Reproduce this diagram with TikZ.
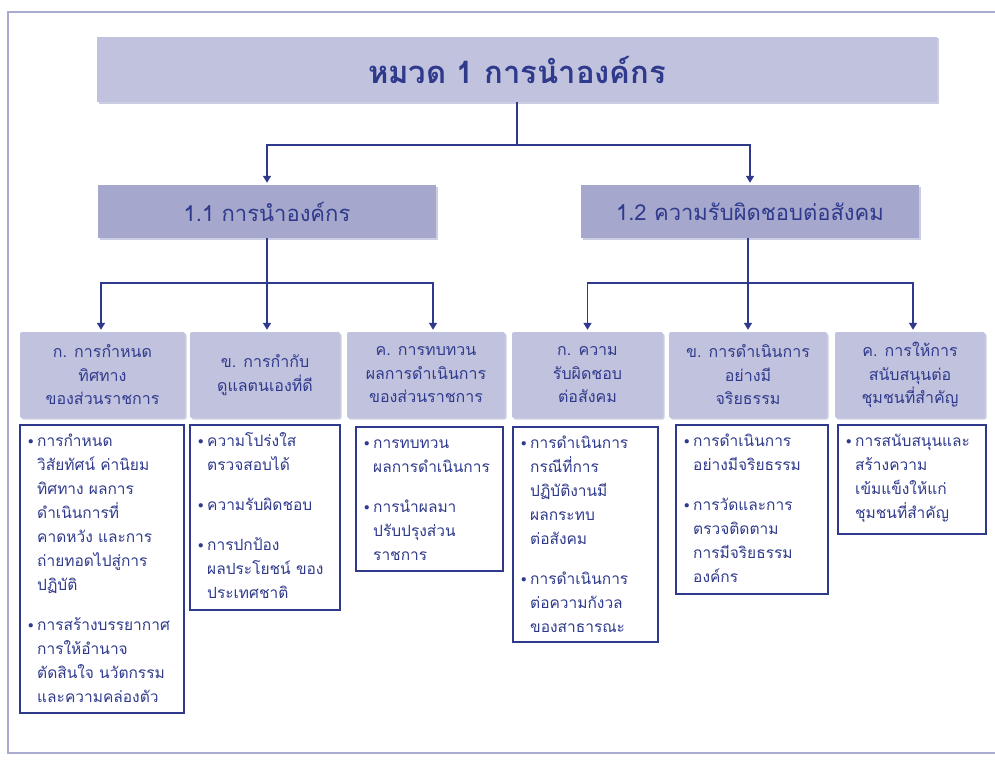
\documentclass[tikz,border=0pt]{standalone}
\usepackage{fontspec}
\newfontfamily\thaifont[Script=Thai]{Loma}
\usetikzlibrary{arrows.meta,shadows}
\definecolor{navy}{HTML}{2F3A8C}
\definecolor{boxlight}{HTML}{C1C2DE}
\definecolor{boxdark}{HTML}{A5A7CC}
\definecolor{framecol}{HTML}{A9ABD1}
\newcommand{\bul}{\rule{0pt}{17pt}\makebox[9pt][l]{\raisebox{1.5pt}{$\scriptstyle\bullet$}}}
\newcommand{\ind}{\hspace*{9pt}}
\tikzset{
    boxshadow/.style = {drop shadow = {shadow xshift = 1.5pt, shadow yshift = -1.5pt, fill = navy, opacity = 0.25}},
    headbox/.style = {fill = boxlight, boxshadow, minimum width = 840pt, minimum height = 65pt, font = \thaifont\bfseries\fontsize{31}{36}\selectfont},
    secbox/.style = {fill = boxdark, boxshadow, minimum width = 338pt, minimum height = 53pt, font = \thaifont\fontsize{22}{26}\selectfont},
    subbox/.style = {fill = boxlight, boxshadow, rounded corners = 2pt, minimum height = 86pt, align = center, font = \thaifont\fontsize{16}{23.5}\selectfont},
    listframe/.style = {draw = navy, line width = 2pt},
    listtext/.style = {anchor = north west, align = left, inner sep = 0pt, font = \thaifont\fontsize{15.5}{24}\selectfont},
    link/.style = {draw = navy, line width = 1.6pt},
    arrowlink/.style = {link, -{Triangle[width = 8pt, length = 7pt]}, shorten > = 2pt}
}
\begin{document}
\begin{tikzpicture}[x = 1pt, y = -1pt, every node/.style = {text = navy}]
    \useasboundingbox (0, 0) rectangle (995, 760);
    % frame
    \draw [framecol, line width = 2pt] (995, 12) -- (8, 12) -- (8, 753) -- (995, 753);
    % boxes
    \node [headbox] (top) at (517, 69.5) {หมวด 1 การนำองค์กร};
    \node [secbox] (lead) at (267, 211.5) {1.1 การนำองค์กร};
    \node [secbox] (social) at (750, 211.5) {1.2 ความรับผิดชอบต่อสังคม};
    \node [subbox, minimum width = 165pt] (ka) at (102.5, 375) {ก. การกำหนด\\ทิศทาง\\ของส่วนราชการ};
    \node [subbox, minimum width = 150pt] (kb) at (265, 375) {ข. การกำกับ\\ดูแลตนเองที่ดี};
    \node [subbox, minimum width = 158pt] (kc) at (426, 375) {ค. การทบทวน\\ผลการดำเนินการ\\ของส่วนราชการ};
    \node [subbox, minimum width = 151pt] (sa) at (587.5, 375) {ก. ความ\\รับผิดชอบ\\ต่อสังคม};
    \node [subbox, minimum width = 158pt] (sb) at (748, 375) {ข. การดำเนินการ\\อย่างมี\\จริยธรรม};
    \node [subbox, minimum width = 150pt] (sc) at (910, 375) {ค. การให้การ\\สนับสนุนต่อ\\ชุมชนที่สำคัญ};
    % connectors
    \coordinate (j0) at (517, 145);
    \coordinate (j1) at (267, 283);
    \coordinate (j2) at (748, 283);
    \draw [link] (top.south) -- (j0);
    \draw [arrowlink] (j0) -| (lead.north);
    \draw [arrowlink] (j0) -| (social.north);
    \draw [link] (lead.south) -- (j1);
    \draw [arrowlink] (j1) -| ([xshift = -1.5pt]ka.north);
    \draw [arrowlink] (j1) -- (kb.north -| j1);
    \draw [arrowlink] (j1) -| ([xshift = 7pt]kc.north);
    \draw [link] (social.south -| j2) -- (j2);
    \draw [arrowlink] (j2) -| (sa.north);
    \draw [arrowlink] (j2) -- (sb.north);
    \draw [arrowlink] (j2) -| ([xshift = 3pt]sc.north);
    % lists
    \draw [listframe] (20, 425) rectangle (184, 713);
    \node [listtext] (lka) at (28, 429) {\bul การกำหนด\\\ind วิสัยทัศน์ ค่านิยม\\\ind ทิศทาง ผลการ\\\ind ดำเนินการที่\\\ind คาดหวัง และการ\\\ind ถ่ายทอดไปสู่การ\\\ind ปฏิบัติ\\[16pt]\bul การสร้างบรรยากาศ\\\ind การให้อำนาจ\\\ind ตัดสินใจ นวัตกรรม\\\ind และความคล่องตัว};
    \draw [listframe] (190, 425) rectangle (340, 610);
    \node [listtext] (lkb) at (198, 429) {\bul ความโปร่งใส\\\ind ตรวจสอบได้\\[16pt]\bul ความรับผิดชอบ\\[16pt]\bul การปกป้อง\\\ind ผลประโยชน์ ของ\\\ind ประเทศชาติ};
    \draw [listframe] (356, 427) rectangle (503, 571);
    \node [listtext] (lkc) at (364, 431) {\bul การทบทวน\\\ind ผลการดำเนินการ\\[16pt]\bul การนำผลมา\\\ind ปรับปรุงส่วน\\\ind ราชการ};
    \draw [listframe] (513, 427) rectangle (658, 642);
    \node [listtext] (lsa) at (521, 431) {\bul การดำเนินการ\\\ind กรณีที่การ\\\ind ปฏิบัติงานมี\\\ind ผลกระทบ\\\ind ต่อสังคม\\[16pt]\bul การดำเนินการ\\\ind ต่อความกังวล\\\ind ของสาธารณะ};
    \draw [listframe] (676, 425) rectangle (828, 594);
    \node [listtext] (lsb) at (684, 429) {\bul การดำเนินการ\\\ind อย่างมีจริยธรรม\\[16pt]\bul การวัดและการ\\\ind ตรวจติดตาม\\\ind การมีจริยธรรม\\\ind องค์กร};
    \draw [listframe] (838, 425) rectangle (986, 534);
    \node [listtext] (lsc) at (846, 429) {\bul การสนับสนุนและ\\\ind สร้างความ\\\ind เข้มแข็งให้แก่\\\ind ชุมชนที่สำคัญ};
\end{tikzpicture}
\end{document}
